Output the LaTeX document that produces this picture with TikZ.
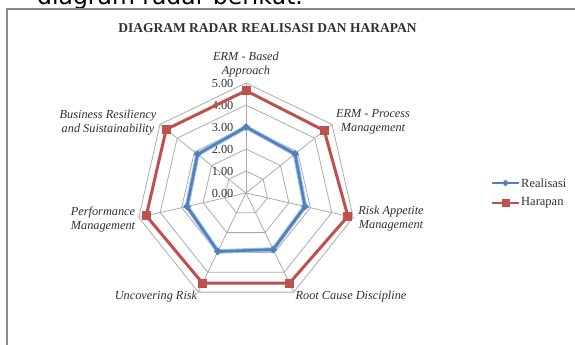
\documentclass[tikz,border=0pt]{standalone}
\usepackage{fontspec}
\setmainfont{Liberation Serif}
\newfontfamily\notefont{DejaVu Sans}
\usetikzlibrary{shapes.geometric,calc}
\definecolor{realblue}{HTML}{4F81BD}
\definecolor{realhalo}{HTML}{A9C4E6}
\definecolor{harred}{HTML}{C0504D}
\definecolor{gridgray}{HTML}{ABABAB}
\definecolor{framegray}{HTML}{8A8A8A}
\definecolor{labelgray}{HTML}{303030}
\tikzset{
  catlabel/.style={font=\itshape\fontsize{12.3}{14}\selectfont, text=labelgray, align=center, inner sep=0pt},
  ticklabel/.style={font=\fontsize{12.3}{14}\selectfont, text=labelgray, anchor=east, inner sep=0pt},
  gridline/.style={draw=gridgray, line width=0.8pt},
  bluehalo/.style={draw=realhalo, line width=4.6pt, line join=round},
  blueline/.style={draw=realblue, line width=2.6pt, line join=round},
  redline/.style={draw=harred, line width=3pt, line join=miter},
  bluemark/.style={diamond, fill=realblue, inner sep=0pt, minimum size=8pt},
  redmark/.style={rectangle, fill=harred, inner sep=0pt, minimum size=9pt},
  legendtext/.style={font=\fontsize{12.5}{14}\selectfont, text=labelgray, anchor=west, inner sep=0pt}
}
\begin{document}
\begin{tikzpicture}[x=1pt,y=-1pt]
\useasboundingbox (0,0) rectangle (575,345);
\begin{scope}
  \clip (0,0) rectangle (575,345);
  % sentence above the chart, cut by the top edge
  \node[anchor=base west, inner sep=0pt, font=\notefont\fontsize{23.5}{28}\selectfont] (intro) at (37,5) {diagram radar berikut.};
  % chart frame
  \draw[framegray, line width=1.2pt] (7,360) -- (7,9) -- (600,9);
\end{scope}

% title
\node[anchor=base, inner sep=0pt, font=\bfseries\fontsize{13.5}{16}\selectfont, text=labelgray] (title) at (267.5,32.3) {DIAGRAM RADAR REALISASI DAN HARAPAN};

\begin{scope}[shift={(246,193)}, y=1pt]
  \coordinate (O) at (0,0);
  % web: rings and spokes
  \foreach \k in {1,...,5} {
    \draw[gridline] (90:22*\k)
      \foreach \j in {1,...,6} { -- ({90-\j*360/7}:22*\k) } -- cycle;
  }
  \foreach \j in {0,...,6} {
    \coordinate (spoke\j) at ({90-\j*360/7}:110);
    \draw[gridline] (O) -- (spoke\j);
  }
  % scale labels
  \foreach \k/\t in {0/0.00,1/1.00,2/2.00,3/3.00,4/4.00,5/5.00}
    \node[ticklabel] (tick\k) at (-12.5,22*\k) {\t};

  % data points
  \foreach \v [count=\i] in {3.0,2.85,2.75,2.85,2.95,2.75,2.82}
    \coordinate (b\i) at ({90-(\i-1)*360/7}:22*\v);
  \foreach \v [count=\i] in {4.65,4.55,4.75,4.55,4.55,4.65,4.64}
    \coordinate (r\i) at ({90-(\i-1)*360/7}:22*\v);

  % Harapan series
  \draw[redline] (r1) -- (r2) -- (r3) -- (r4) -- (r5) -- (r6) -- (r7) -- cycle;
  \foreach \i in {1,...,7} \node[redmark] (rm\i) at (r\i) {};

  % Realisasi series
  \draw[bluehalo] (b1) -- (b2) -- (b3) -- (b4) -- (b5) -- (b6) -- (b7) -- cycle;
  \draw[blueline] (b1) -- (b2) -- (b3) -- (b4) -- (b5) -- (b6) -- (b7) -- cycle;
  \foreach \i in {1,...,7} \node[bluemark] (bm\i) at (b\i) {};
\end{scope}

% category labels
\node[catlabel] (cat1) at (246,65) {ERM - Based\\Approach};
\node[catlabel] (cat2) at (373,122) {ERM - Process\\Management};
\node[catlabel] (cat3) at (391,219) {Risk Appetite\\Management};
\node[catlabel] (cat4) at (351,297) {Root Cause Discipline};
\node[catlabel] (cat5) at (156,297) {Uncovering Risk};
\node[catlabel] (cat6) at (103,219) {Performance\\Management};
\node[catlabel] (cat7) at (108,123) {Business Resiliency\\and Suistainability};

% legend
\coordinate (lb1) at (492,183);
\coordinate (lb2) at (519,183);
\coordinate (lr1) at (492,203);
\coordinate (lr2) at (519,203);
\draw[draw=realblue, line width=2.4pt] (lb1) -- (lb2);
\node[bluemark, minimum size=7pt] (lbm) at ($(lb1)!0.5!(lb2)$) {};
\node[legendtext] (leg1) at (521,183) {Realisasi};
\draw[draw=harred, line width=2.6pt] (lr1) -- (lr2);
\node[redmark, minimum size=8pt] (lrm) at ($(lr1)!0.5!(lr2)$) {};
\node[legendtext] (leg2) at (521,203) {Harapan};
\end{tikzpicture}
\end{document}
